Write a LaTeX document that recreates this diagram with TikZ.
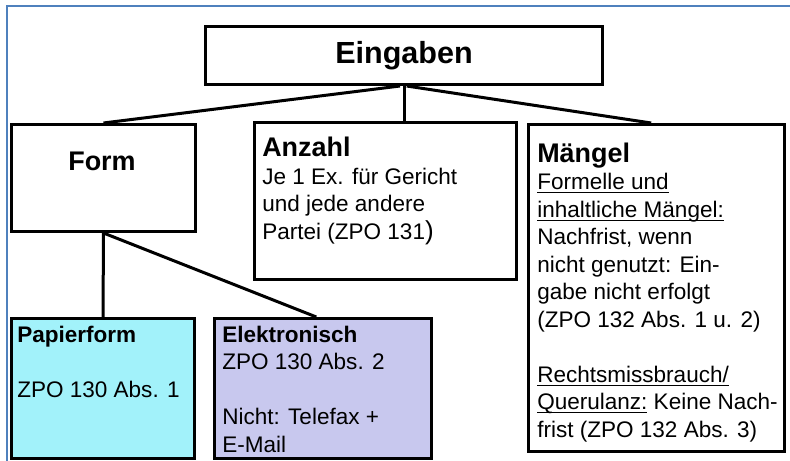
\documentclass[tikz,border=0pt]{standalone}
\usepackage{fontspec}
\setmainfont{Liberation Sans}
\definecolor{papiercyan}{RGB}{162,242,250}
\definecolor{elektrolila}{RGB}{200,200,238}
\definecolor{rahmenblau}{RGB}{79,129,189}
\newcommand{\unterstr}[1]{\setbox0\hbox{#1}\rlap{\rule[-2.6pt]{\wd0}{0.75pt}}\box0\relax}
\begin{document}
\begin{tikzpicture}[x=0.75pt,y=0.75pt,yscale=-1,xscale=1,
	kasten/.style={draw, line width=2.25pt, anchor=north west, inner sep=0pt},
	txt/.style={anchor=base west, inner sep=0pt, align=left, font=\fontsize{16.9}{20.6}\selectfont},
	kopf/.style={font=\fontsize{20.2}{20.6}\selectfont\bfseries},
	verb/.style={line width=2.25pt}]
	\useasboundingbox (0,0) rectangle (790,461);
	% Rahmen
	\draw [rahmenblau, line width=1.9pt] (7,461) -- (7,6) -- (790,6) ;
	% Kaesten
	\node [kasten, minimum width=297.75pt, minimum height=43.5pt, font=\fontsize{22.9}{24}\selectfont\bfseries] (eingaben) at (204,25) {Eingaben};
	\node [kasten, minimum width=138pt, minimum height=80.25pt] (form) at (10,123) {};
	\node [kasten, minimum width=196.5pt, minimum height=117.75pt] (anzahl) at (253,121) {};
	\node [kasten, minimum width=192pt, minimum height=245.25pt] (maengel) at (527,123) {};
	\node [kasten, fill=papiercyan, minimum width=137.25pt, minimum height=105pt] (papier) at (10,317) {};
	\node [kasten, fill=elektrolila, minimum width=162.75pt, minimum height=105pt] (elektro) at (213,317) {};
	% Texte (base = letzte Zeile)
	\node [kopf, anchor=base, inner sep=0pt] (formtext) at (102,170) {Form};
	\node [txt] (anzahltext) at (262,239) {{\fontsize{20.2}{20.6}\selectfont\bfseries Anzahl}\\
		Je 1 Ex. f\"ur Gericht\\
		und jede andere\\
		Partei (ZPO 131{\fontsize{19.5}{20.6}\selectfont )}};
	\node [txt] (maengeltext) at (537,437) {{\fontsize{20.2}{20.6}\selectfont\bfseries M\"angel}\\
		\unterstr{Formelle und}\\
		\unterstr{inhaltliche M\"angel:}\\
		Nachfrist, wenn\\
		nicht genutzt: Ein-\\
		gabe nicht erfolgt\\
		(ZPO 132 Abs. 1 u. 2)\\[20.6pt]
		\unterstr{Rechtsmissbrauch/}\\
		\unterstr{Querulanz:} Keine Nach-\\
		frist (ZPO 132 Abs. 3)};
	\node [txt] (papiertext) at (17,397) {\textbf{Papierform}\\[20.6pt]
		ZPO 130 Abs. 1};
	\node [txt] (elektrotext) at (222,452) {\textbf{Elektronisch}\\
		ZPO 130 Abs. 2\\[20.6pt]
		Nicht: Telefax +\\
		E-Mail};
	% Verbindungen
	\draw [verb] ([xshift=-3pt]eingaben.south) -- (form.north) ;
	\draw [verb] (eingaben.south) -- (eingaben.south |- anzahl.north) ;
	\draw [verb] ([xshift=2pt]eingaben.south) -- ([xshift=-4pt]maengel.north) ;
	\draw [verb] (form.south) -- (papier.north) ;
	\draw [verb] (form.south) -- ([xshift=-5pt]elektro.north) ;
\end{tikzpicture}
\end{document}
